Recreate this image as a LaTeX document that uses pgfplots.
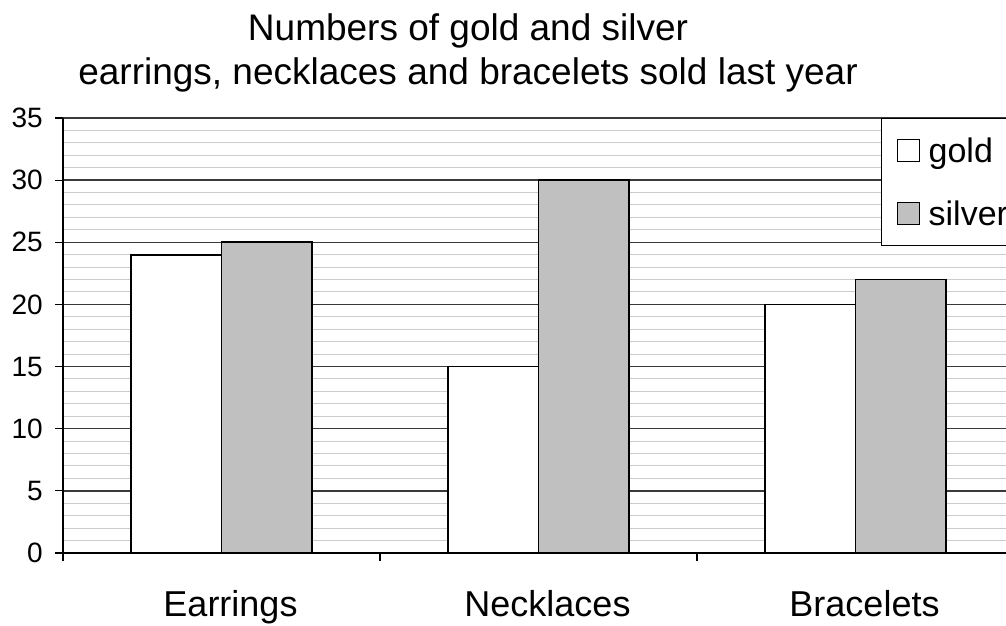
\documentclass[border=0pt]{standalone}
\usepackage{fontspec}
\setmainfont{Liberation Sans}
\usepackage{pgfplots}
\pgfplotsset{compat=1.18}

\definecolor{silverbar}{HTML}{C0C0C0}
\definecolor{majorgrid}{HTML}{3A3A3A}
\definecolor{minorgrid}{HTML}{CCCCCC}

% 1pt here stands for one pixel of the reference picture
\pgfplotsset{
  sq legend/.style={legend image code/.code={
      \draw[##1, line width=1pt] (0pt,-11pt) rectangle (22pt,11pt);}},
}

\begin{document}
\begin{tikzpicture}
\begin{axis}[
    at={(63pt,73pt)}, anchor=south west,
    scale only axis, width=951pt, height=435pt,
    xmin=0.5, xmax=3.5, ymin=0, ymax=35,
    ybar=0pt, bar width=90.5pt,
    axis x line*=bottom, axis y line*=left,
    axis line style={black, line width=1.5pt},
    xtick={0.5,1.5,2.5,3.5},
    x tick label as interval,
    xticklabels={Earrings,Necklaces,Bracelets},
    ytick={0,5,...,35}, minor tick num=4,
    tick align=outside, major tick length=8pt, minor tick length=0pt,
    tick style={black, line width=1.2pt},
    ymajorgrids, yminorgrids,
    major grid style={majorgrid, line width=1.3pt},
    minor grid style={minorgrid, line width=1pt},
    yticklabel style={font=\fontsize{28}{32}\selectfont, inner sep=0pt},
    yticklabel shift=12pt,
    xticklabel style={font=\fontsize{36}{42}\selectfont, inner sep=0pt,
                      anchor=base, yshift=-55pt, xshift=9pt},
    /pgf/number format/assume math mode=true,
    every axis title/.style={at={(0.4259,1)}, anchor=south, inner sep=0pt,
                             yshift=26pt, align=center,
                             font=\fontsize{37}{43.5}\selectfont},
    title={Numbers of gold and silver\\earrings, necklaces and bracelets sold last year},
    legend style={at={(0.8602,1)}, anchor=north west, draw=black,
                  line width=1.2pt, font=\fontsize{34}{40}\selectfont,
                  inner xsep=15pt, inner ysep=17pt, row sep=33pt,
                  column sep=7pt, cells={anchor=west}},
  ]
  \addplot[fill=white, draw=black, line width=1.8pt, sq legend]
    coordinates {(1,24) (2,15) (3,20)};
  \addplot[fill=silverbar, draw=black, line width=1.8pt, sq legend]
    coordinates {(1,25) (2,30) (3,22)};
  \legend{gold,silver\hspace*{30pt}}
\end{axis}
\pgfresetboundingbox
\useasboundingbox (0pt,0pt) rectangle (1006pt,626pt);
\end{tikzpicture}
\end{document}
